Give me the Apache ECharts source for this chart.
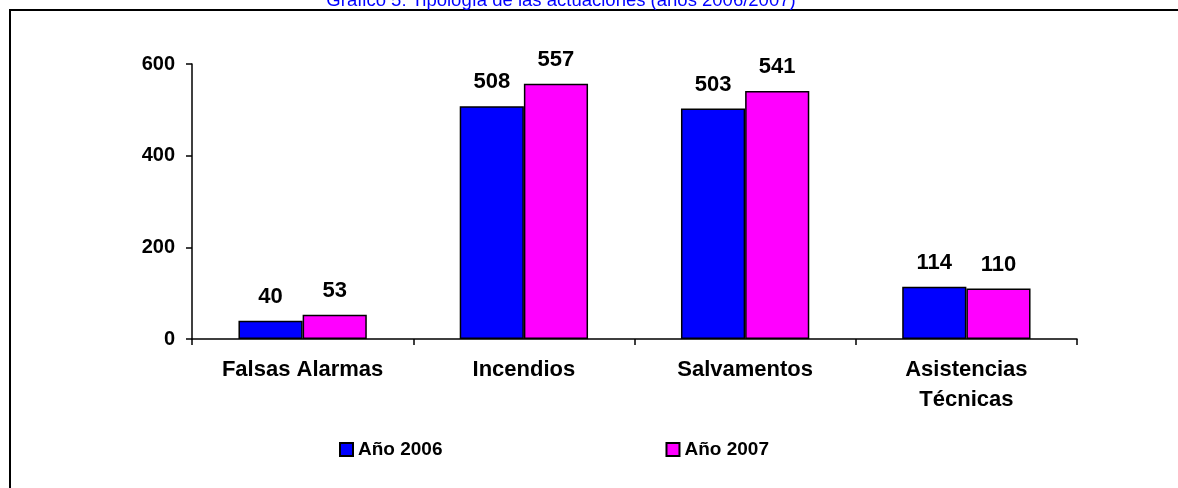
<!DOCTYPE html>
<html>
<head>
<meta charset="utf-8">
<style>
  html, body { margin: 0; padding: 0; background: #fff; }
  #chart { width: 1178px; height: 488px; }
</style>
<script src="https://cdn.jsdelivr.net/npm/echarts@6/dist/echarts.min.js"></script>
</head>
<body>
<div id="chart"></div>
<script>
const categories = ['Falsas Alarmas', 'Incendios', 'Salvamentos', 'Asistencias\nTécnicas'];
const values2006 = [40, 508, 503, 114];
const values2007 = [53, 557, 541, 110];
const yTicks = { min: 0, max: 600, interval: 200 };

const font = '"Liberation Sans", Arial, sans-serif';

const barSeries = (name, color, data) => ({
  name: name,
  type: 'bar',
  data: data,
  barGap: '0%',
  barCategoryGap: '42%',
  itemStyle: { color: color, borderColor: '#000', borderWidth: 1.5 },
  label: {
    show: true,
    position: 'top',
    distance: 13,
    color: '#000',
    fontFamily: font,
    fontWeight: 'bold',
    fontSize: 22,
  },
});

const chart = echarts.init(document.getElementById('chart'));
chart.setOption({
  animation: false,
  backgroundColor: '#fff',
  graphic: [
    {
      type: 'polyline',
      shape: { points: [[10, 488], [10, 10], [1178, 10]] },
      style: { stroke: '#000', lineWidth: 2, fill: null },
    },
    {
      type: 'text',
      x: 561,
      y: 10,
      style: {
        text: 'Gráfico 5: Tipología de las actuaciones (años 2006/2007)',
        fill: '#0000ff',
        font: '18.5px ' + font,
        textAlign: 'center',
        textVerticalAlign: 'bottom',
      },
    },
  ],
  legend: {
    left: 339,
    top: 440,
    padding: 0,
    itemWidth: 13,
    itemHeight: 13,
    itemGap: 223,
    textStyle: { color: '#000', fontFamily: font, fontWeight: 'bold', fontSize: 19 },
    data: [
      { name: 'Año 2006', icon: 'rect' },
      { name: 'Año 2007', icon: 'rect' },
    ],
  },
  grid: { left: 192, right: 101, top: 64, bottom: 149 },
  xAxis: {
    type: 'category',
    data: categories,
    axisLine: { lineStyle: { color: '#000', width: 1.5 } },
    axisTick: { show: true, length: 6, lineStyle: { color: '#000', width: 1.5 } },
    axisLabel: {
      color: '#000',
      fontFamily: font,
      fontWeight: 'bold',
      fontSize: 22,
      lineHeight: 30,
      margin: 16,
      interval: 0,
    },
  },
  yAxis: {
    type: 'value',
    min: yTicks.min,
    max: yTicks.max,
    interval: yTicks.interval,
    splitLine: { show: false },
    axisLine: { show: true, lineStyle: { color: '#000', width: 1.5 } },
    axisTick: { show: true, length: 6, lineStyle: { color: '#000', width: 1.5 } },
    axisLabel: {
      color: '#000',
      fontFamily: font,
      fontWeight: 'bold',
      fontSize: 20,
      margin: 17,
    },
  },
  series: [
    barSeries('Año 2006', '#0000ff', values2006),
    barSeries('Año 2007', '#ff00ff', values2007),
  ],
});
</script>
</body>
</html>
